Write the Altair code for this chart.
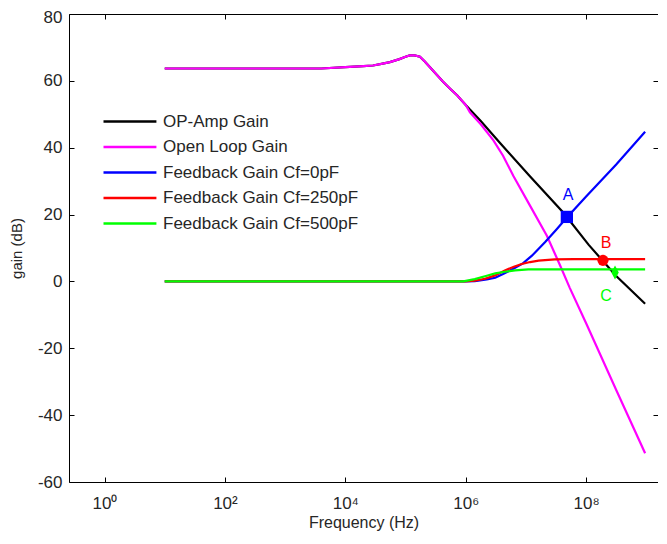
import altair as alt
import pandas as pd

# ---- data (log10 of frequency in Hz, gain in dB) ----
series_names = ["OP-Amp Gain", "Open Loop Gain", "Feedback Gain Cf=0pF",
                "Feedback Gain Cf=250pF", "Feedback Gain Cf=500pF"]
series_colors = ["#000000", "#ff00ff", "#0000ff", "#ff0000", "#00ff00"]

opamp_logf = [1.0, 2.0, 3.0, 3.6, 4.0, 4.3, 4.46, 4.6, 4.74, 4.9, 5.0, 5.07, 5.15,
              5.24, 5.32, 5.41, 5.5, 5.62, 5.75, 5.86, 6.0, 6.07, 6.25, 6.57, 7.07,
              7.62, 8.04, 8.5, 8.98]
opamp_gain = [63.7, 63.7, 63.7, 63.7, 64.1, 64.4, 64.6, 65.1, 65.6, 66.5, 67.2, 67.6, 67.6,
              67.2, 65.8, 64.0, 62.2, 59.8, 57.5, 55.6, 52.8, 51.4, 48.0, 41.4, 31.4,
              20.6, 11.0, 1.6, -6.7]

openloop_logf = [1.0, 2.0, 3.0, 3.6, 4.0, 4.3, 4.46, 4.6, 4.74, 4.9, 5.0, 5.07, 5.15,
                 5.24, 5.32, 5.41, 5.5, 5.62, 5.75, 5.86, 6.0, 6.07, 6.25, 6.46, 6.62,
                 6.79, 7.07, 7.35, 7.57, 7.73, 8.0, 8.5, 8.98]
openloop_gain = [63.7, 63.7, 63.7, 63.7, 64.1, 64.4, 64.6, 65.1, 65.6, 66.5, 67.2, 67.6, 67.6,
                 67.2, 65.8, 64.0, 62.2, 59.8, 57.5, 55.6, 52.8, 50.6, 47.0, 42.2, 37.6,
                 31.6, 22.6, 13.6, 4.7, -2.0, -12.5, -32.5, -51.4]

fb0_logf = [1.0, 6.0, 6.15, 6.35, 6.49, 6.62, 6.82, 6.95, 7.1, 7.32, 7.5, 7.68, 8.0, 8.5, 8.98]
fb0_gain = [0.0, 0.0, 0.1, 0.6, 1.1, 2.2, 4.1, 5.4, 7.7, 11.8, 15.4, 19.1, 25.4, 35.0, 44.8]

fb250_logf = [1.0, 5.99, 6.15, 6.32, 6.49, 6.65, 6.8, 6.93, 7.07, 7.21, 7.48, 7.8, 8.98]
fb250_gain = [0.0, 0.0, 0.2, 0.8, 1.8, 3.3, 4.4, 5.2, 5.8, 6.2, 6.6, 6.7, 6.7]

fb500_logf = [1.0, 5.96, 6.15, 6.35, 6.49, 6.65, 6.82, 7.04, 8.98]
fb500_gain = [0.0, 0.0, 0.7, 1.7, 2.4, 2.9, 3.3, 3.6, 3.6]

point_names = ["A", "B", "C"]
point_logf = [7.68, 8.28, 8.48]
point_gain = [19.3, 6.3, 2.7]
point_colors = ["#0000ff", "#ff0000", "#00ff00"]
label_logf = [7.70, 8.33, 8.33]
label_gain = [25.8, 11.6, -4.4]

x_tick_values = [1, 100, 10000, 1000000, 100000000]
y_tick_values = [-60, -40, -20, 0, 20, 40, 60, 80]

# ---- tables ----
rows = []
for name, lf, g in zip(series_names,
                       [opamp_logf, openloop_logf, fb0_logf, fb250_logf, fb500_logf],
                       [opamp_gain, openloop_gain, fb0_gain, fb250_gain, fb500_gain]):
    for i, (a, b) in enumerate(zip(lf, g)):
        rows.append({"series": name, "f": 10 ** a, "gain": b, "i": i})
curves = pd.DataFrame(rows)

points = pd.DataFrame({
    "name": point_names,
    "f": [10 ** v for v in point_logf],
    "gain": point_gain,
    "color": point_colors,
    "lf": [10 ** v for v in label_logf],
    "lg": label_gain,
})

FONT = "Liberation Sans"
TXT = "#262626"

x_scale = alt.Scale(type="log", domain=[10 ** -0.59, 10 ** 9.194], nice=False)
y_scale = alt.Scale(domain=[-60, 80], nice=False)

sup = ("'10' + ['\u2070','\u00b9','\u00b2','\u00b3','\u2074','\u2075','\u2076','\u2077',"
       "'\u2078','\u2079'][round(log(datum.value)/LN10)]")
ylab = "datum.value < 0 ? '-' + abs(datum.value) : '' + datum.value"
tick_in = alt.ExprRef(expr="-5")

x_axis = alt.Axis(values=x_tick_values, labelExpr=sup, title="Frequency (Hz)",
                  grid=False, tickSize=tick_in, tickColor="#000",
                  domainColor="#000", labelFont=FONT, labelFontSize=17, labelColor=TXT,
                  labelPadding=18, titleFont=FONT, titleFontSize=16, titleFontWeight="normal",
                  titleColor=TXT, titlePadding=3)
y_axis = alt.Axis(values=y_tick_values, labelExpr=ylab, title="gain (dB)", grid=False,
                  tickSize=tick_in, tickColor="#000", domainColor="#000",
                  labelFont=FONT, labelFontSize=17, labelColor=TXT, labelPadding=12,
                  labelOffset=alt.ExprRef(expr="datum.value == 80 ? 3 : 0"),
                  titleFont=FONT, titleFontSize=15, titleFontWeight="normal",
                  titleColor=TXT, titlePadding=13)
x_axis_top = alt.Axis(orient="top", values=x_tick_values, labels=False, title=None, grid=False,
                      tickSize=tick_in, tickColor="#000", domainColor="#000")
y_axis_right = alt.Axis(orient="right", values=y_tick_values, labels=False, title=None, grid=False,
                        tickSize=tick_in, tickColor="#000", domainColor="#000")

legend = alt.Legend(title=None, orient="none", legendX=26, legendY=99,
                    symbolType="M0,0H20", symbolSize=28, symbolStrokeWidth=2.5,
                    labelFont=FONT, labelFontSize=17, labelColor=TXT, labelOffset=51,
                    labelLimit=400, rowPadding=7.5, padding=0, offset=0)
color = alt.Color("series:N", scale=alt.Scale(domain=series_names, range=series_colors),
                  legend=legend)

base = alt.Chart(curves)
layers = []
for k, name in enumerate(series_names):
    layers.append(
        base.transform_filter(alt.datum.series == name)
        .mark_line(strokeWidth=2.2, clip=True)
        .encode(
            x=alt.X("f:Q", scale=x_scale, axis=x_axis if k == 0 else None),
            y=alt.Y("gain:Q", scale=y_scale, axis=y_axis if k == 0 else None),
            color=color,
            order="i:Q",
        )
    )

markers = alt.Chart(points).mark_point(filled=True, opacity=1).encode(
    x=alt.X("f:Q", scale=x_scale, axis=x_axis_top),
    y=alt.Y("gain:Q", scale=y_scale, axis=y_axis_right),
    shape=alt.Shape("name:N", scale=alt.Scale(
        domain=point_names,
        range=["square", "circle", "M0,-1.4L0.75,0L0,1.4L-0.75,0Z"]), legend=None),
    size=alt.Size("name:N", scale=alt.Scale(domain=point_names, range=[150, 100, 130]),
                  legend=None),
    fill=alt.Fill("color:N", scale=None, legend=None),
)

labels = alt.Chart(points).mark_text(font=FONT, fontSize=16).encode(
    x=alt.X("lf:Q", scale=x_scale, axis=None),
    y=alt.Y("lg:Q", scale=y_scale, axis=None),
    text="name:N",
    color=alt.Color("color:N", scale=None, legend=None),
)

chart = (
    alt.layer(*layers, markers, labels)
    .resolve_axis(x="independent", y="independent")
    .properties(width=589, height=468, autosize="none",
                padding={"left": 61, "top": 6, "right": 0, "bottom": 50})
    .configure_view(stroke="#000", strokeWidth=1)
    .configure(background="white")
)

chart.save("out.html", embed_options={"renderer": "svg", "actions": False})
